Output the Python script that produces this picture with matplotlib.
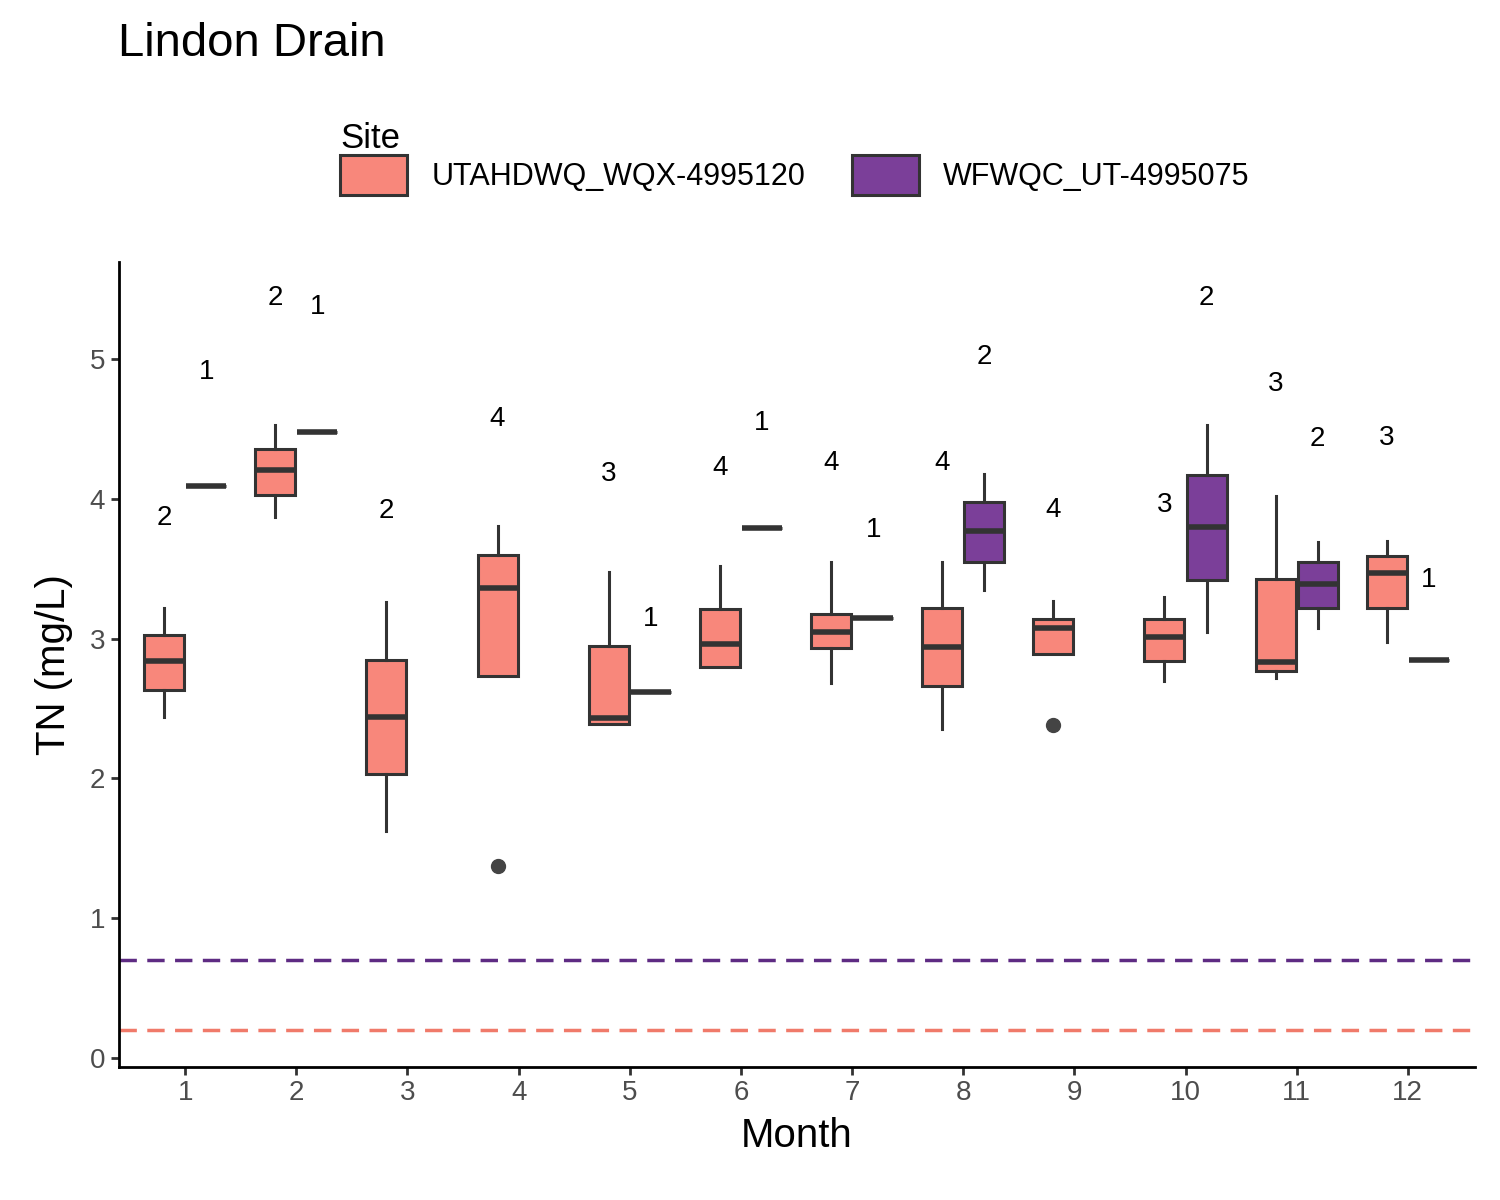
import matplotlib
matplotlib.use("Agg")
import matplotlib.pyplot as plt
from matplotlib.patches import Patch

plt.rcParams['font.family'] = ['Liberation Sans', 'DejaVu Sans']

# (month, whislo, q1, med, q3, whishi, outliers, n)
utah = [
    (1, 2.44, 2.63, 2.84, 3.03, 3.22, [], 2),
    (2, 3.87, 4.03, 4.21, 4.36, 4.53, [], 2),
    (3, 1.62, 2.03, 2.44, 2.85, 3.26, [], 2),
    (4, 2.73, 2.73, 3.36, 3.60, 3.81, [1.37], 4),
    (5, 2.39, 2.39, 2.43, 2.95, 3.48, [], 3),
    (6, 2.80, 2.80, 2.96, 3.21, 3.52, [], 4),
    (7, 2.68, 2.93, 3.05, 3.18, 3.55, [], 4),
    (8, 2.35, 2.66, 2.94, 3.22, 3.55, [], 4),
    (9, 2.89, 2.89, 3.08, 3.14, 3.27, [2.38], 4),
    (10, 2.70, 2.84, 3.01, 3.14, 3.30, [], 3),
    (11, 2.72, 2.77, 2.83, 3.43, 4.02, [], 3),
    (12, 2.98, 3.22, 3.47, 3.59, 3.70, [], 3),
]
wfwqc = [
    (1, 4.09, 4.09, 4.09, 4.09, 4.09, [], 1),
    (2, 4.48, 4.48, 4.48, 4.48, 4.48, [], 1),
    (5, 2.62, 2.62, 2.62, 2.62, 2.62, [], 1),
    (6, 3.79, 3.79, 3.79, 3.79, 3.79, [], 1),
    (7, 3.15, 3.15, 3.15, 3.15, 3.15, [], 1),
    (8, 3.35, 3.55, 3.77, 3.98, 4.18, [], 2),
    (10, 3.05, 3.42, 3.80, 4.17, 4.53, [], 2),
    (11, 3.08, 3.22, 3.39, 3.55, 3.69, [], 2),
    (12, 2.85, 2.85, 2.85, 2.85, 2.85, [], 1),
]
sites = ['UTAHDWQ_WQX-4995120', 'WFWQC_UT-4995075']
fills = ['#F8877B', '#7B3F99']
line_cols = ['#F07A6A', '#5E2B83']
standards = [0.2, 0.7]

fig = plt.figure(figsize=(15, 12), dpi=100)
ax = fig.add_axes([0.079, 0.111, 0.904, 0.671])

edge = '#333333'
for data, offset, fc in [(utah, -0.19, fills[0]), (wfwqc, 0.19, fills[1])]:
    stats = [dict(whislo=d[1], q1=d[2], med=d[3], q3=d[4], whishi=d[5], fliers=d[6]) for d in data]
    pos = [d[0] + offset for d in data]
    ax.bxp(stats, positions=pos, widths=0.36, patch_artist=True, showcaps=False,
           boxprops=dict(facecolor=fc, edgecolor=edge, linewidth=2.2),
           whiskerprops=dict(color=edge, linewidth=2.2),
           medianprops=dict(color=edge, linewidth=4),
           flierprops=dict(marker='o', markerfacecolor='#444444', markeredgecolor='#444444', markersize=10))
    for d, p in zip(data, pos):
        ax.text(p, d[5] * 1.2, str(d[7]), ha='center', va='center', fontsize=20, color='black')

for v, c in zip(standards, line_cols):
    ax.axhline(v, color=c, linestyle=(0, (5, 3)), linewidth=2.5)

ax.set_xlim(0.4, 12.6)
ax.set_ylim(-0.065, 5.7)
ax.set_xticks(range(1, 13))
ax.set_xticklabels([str(m) for m in range(1, 13)])
ax.set_yticks(range(6))
ax.tick_params(labelsize=20, colors='#4D4D4D', width=2, length=6)
ax.tick_params(axis='both', colors='#333333', labelcolor='#4D4D4D')
for s in ['top', 'right']:
    ax.spines[s].set_visible(False)
for s in ['left', 'bottom']:
    ax.spines[s].set_linewidth(2)
ax.set_xlabel('Month', fontsize=29, labelpad=8)
ax.set_ylabel('TN (mg/L)', fontsize=29, labelpad=12)

fig.text(0.079, 0.963, 'Lindon Drain', fontsize=34, va='center')
handles = [Patch(facecolor=f, edgecolor=edge, linewidth=2.2) for f in fills]
leg = fig.legend(handles, sites, loc='center', bbox_to_anchor=(0.53, 0.868), ncol=2,
                 frameon=False, fontsize=22, title='Site', title_fontsize=25,
                 handlelength=2.2, handleheight=1.6, columnspacing=1.5)
leg._legend_box.align = 'left'
# put title inline with entries
leg._legend_box.sep = 0
from matplotlib.offsetbox import HPacker
box = leg._legend_box
box._children = [HPacker(children=box._children[:], pad=0, sep=25, align='center')] if False else box._children

fig.savefig('out.png', dpi=100)
